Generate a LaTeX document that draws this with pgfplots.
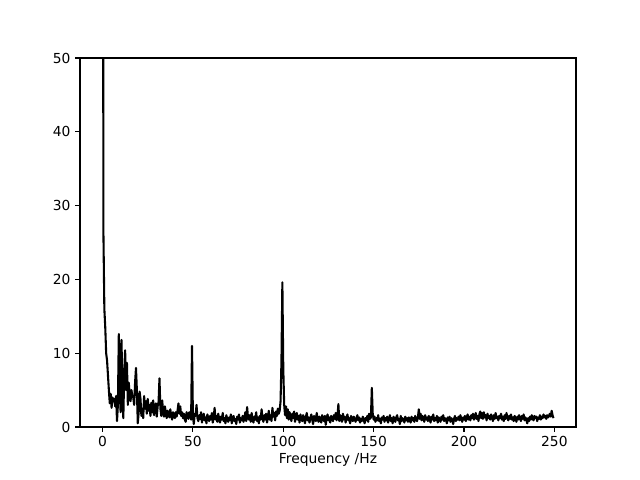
\documentclass[border=0pt]{standalone}
\usepackage{pgfplots}
\pgfplotsset{compat=1.18}
\usepackage{fontspec}
\setmainfont{DejaVu Sans}
\begin{document}
\begin{tikzpicture}[x=1bp,y=1bp]
\path[use as bounding box] (-60bp,-39.75bp) rectangle (420bp,320.25bp);
\begin{axis}[
  at={(0,0)}, anchor=south west,
  scale only axis, width=372bp, height=276.75bp,
  xmin=-12.475, xmax=261.975, ymin=0, ymax=50,
  xtick={0,50,100,150,200,250}, ytick={0,10,20,30,40,50},
  tick align=outside, tick pos=left,
  major tick length=3.65bp,
  every tick/.style={black, line width=0.83bp},
  axis line style={line width=0.83bp},
  font=\fontsize{10.4}{12}\selectfont,
  /pgf/number format/assume math mode=true,
  xlabel={Frequency /Hz},
  xlabel style={yshift=2bp},
  clip=true,
]
\addplot[black, line width=1.56bp, line join=round] table[x expr=\coordindex*0.5, y index=0, header=false, row sep=\\] {
120\\ 26\\ 16\\ 13.5\\ 10\\ 9\\ 7\\ 5\\ 3.2\\ 4.5\\ 2.6\\ 4\\ 3.5\\ 3.8\\ 2.8\\ 4.2\\ 0.8\\ 3\\ 12.6\\ 5\\
2\\ 11.8\\ 4\\ 1.2\\ 7.5\\ 10.4\\ 5\\ 8.7\\ 3\\ 6\\ 4.5\\ 3.5\\ 5\\ 4.2\\ 4\\ 3\\ 6\\ 8\\ 5\\ 0.5\\
2\\ 4.8\\ 3.8\\ 1.5\\ 2.5\\ 1.2\\ 4.2\\ 2.5\\ 3.5\\ 1.8\\ 3.8\\ 2.2\\ 3\\ 1.5\\ 3.3\\ 2\\ 3.6\\ 1.6\\ 2.6\\ 3.2\\
1.4\\ 2.8\\ 3.4\\ 6.6\\ 2.5\\ 1.5\\ 3.6\\ 2.2\\ 1.4\\ 2.8\\ 2\\ 1.2\\ 2.2\\ 1.8\\ 1.3\\ 2.4\\ 1.5\\ 1\\ 2\\ 1.6\\
1.2\\ 2\\ 1.4\\ 2.2\\ 3.2\\ 1.8\\ 2.8\\ 1.5\\ 2\\ 1.2\\ 1.8\\ 1\\ 0.7\\ 2\\ 1.5\\ 1.1\\ 2\\ 1.6\\ 1\\ 11\\
1.5\\ 0.4\\ 1.8\\ 1.5\\ 3\\ 1.2\\ 0.8\\ 1.6\\ 1.1\\ 2\\ 0.6\\ 1.4\\ 1.8\\ 0.9\\ 1.3\\ 0.5\\ 1.7\\ 1.2\\ 0.8\\ 1.5\\
1\\ 1.9\\ 0.6\\ 1.3\\ 2.6\\ 1\\ 1.5\\ 0.7\\ 1.8\\ 1.2\\ 0.6\\ 1.4\\ 1\\ 1.9\\ 0.8\\ 1.2\\ 0.5\\ 1.6\\ 1.1\\ 0.7\\
1.3\\ 0.9\\ 1.7\\ 0.5\\ 1.2\\ 1.5\\ 0.8\\ 1.1\\ 0.4\\ 1.4\\ 1\\ 1.7\\ 0.6\\ 1.2\\ 0.9\\ 1.5\\ 0.7\\ 1.3\\ 2\\ 0.8\\
2.7\\ 1.2\\ 1\\ 1.6\\ 0.7\\ 1.9\\ 1.1\\ 0.6\\ 1.4\\ 1\\ 2\\ 0.8\\ 1.3\\ 0.5\\ 1.5\\ 1\\ 2.4\\ 1.2\\ 0.7\\ 1.6\\
1\\ 1.8\\ 0.6\\ 1.3\\ 2.2\\ 1\\ 1.6\\ 0.8\\ 2.6\\ 1.4\\ 1.9\\ 0.9\\ 2.1\\ 1.5\\ 2.5\\ 1.8\\ 2.2\\ 3.5\\ 9\\ 19.6\\
8\\ 3\\ 1.6\\ 2.8\\ 1.2\\ 2.4\\ 1\\ 2\\ 1.5\\ 0.8\\ 1.8\\ 1.2\\ 2.1\\ 0.7\\ 1.4\\ 1.9\\ 1\\ 1.5\\ 0.6\\ 1.7\\
1.1\\ 0.8\\ 1.6\\ 1.2\\ 0.5\\ 1.4\\ 1.9\\ 0.9\\ 1.3\\ 0.6\\ 1.2\\ 1.7\\ 1\\ 0.4\\ 1.5\\ 1.1\\ 0.8\\ 1.9\\ 1.2\\ 0.7\\
1.4\\ 1\\ 0.6\\ 1.6\\ 1.1\\ 0.8\\ 1.5\\ 0.3\\ 1.2\\ 1.7\\ 0.9\\ 1.3\\ 0.6\\ 1.5\\ 1\\ 0.8\\ 1.6\\ 1.1\\ 1.9\\ 0.9\\
1.5\\ 3.1\\ 0.8\\ 1.6\\ 1.2\\ 0.7\\ 1.8\\ 1\\ 1.4\\ 0.6\\ 1.3\\ 1.7\\ 0.9\\ 1.2\\ 0.5\\ 1.5\\ 1\\ 0.8\\ 1.4\\ 1.1\\
0.7\\ 1.2\\ 1.6\\ 0.9\\ 1.3\\ 0.6\\ 1.1\\ 0.8\\ 1.4\\ 1\\ 0.5\\ 1.2\\ 0.9\\ 1.5\\ 0.7\\ 1.8\\ 1.1\\ 1.3\\ 5.3\\ 1.8\\
1\\ 1.4\\ 0.7\\ 1.2\\ 0.9\\ 1.6\\ 0.8\\ 1.1\\ 0.5\\ 1.3\\ 1\\ 1.5\\ 0.7\\ 1.2\\ 0.9\\ 1.4\\ 0.6\\ 1.1\\ 1.6\\ 0.8\\
1.2\\ 0.5\\ 1.4\\ 1\\ 0.7\\ 1.3\\ 1.6\\ 0.9\\ 1.1\\ 0.4\\ 1.5\\ 0.8\\ 1.2\\ 1\\ 0.6\\ 1.4\\ 0.9\\ 1.2\\ 0.7\\ 1.3\\
1\\ 0.6\\ 1.4\\ 0.9\\ 1.2\\ 0.7\\ 1.5\\ 1\\ 0.8\\ 1.3\\ 2.4\\ 1.1\\ 1.8\\ 0.9\\ 1.5\\ 1.2\\ 0.7\\ 1.6\\ 1\\ 1.3\\
0.8\\ 1.5\\ 1.1\\ 0.6\\ 1.4\\ 1\\ 1.7\\ 0.8\\ 1.2\\ 0.9\\ 1.5\\ 0.6\\ 1.3\\ 1.1\\ 0.7\\ 1.4\\ 1\\ 1.6\\ 0.8\\ 1.2\\
1\\ 0.5\\ 1.3\\ 0.9\\ 1.4\\ 0.7\\ 1.2\\ 1\\ 0.4\\ 1.1\\ 1.5\\ 0.8\\ 1.2\\ 1\\ 1.4\\ 0.9\\ 1.6\\ 1.1\\ 0.7\\ 1.3\\
1\\ 1.5\\ 0.8\\ 1.3\\ 1.7\\ 1\\ 1.4\\ 0.9\\ 1.6\\ 1.2\\ 1.8\\ 1\\ 1.3\\ 1.9\\ 1.1\\ 1.5\\ 0.8\\ 1.7\\ 2.1\\ 1.2\\
1.9\\ 1.1\\ 2\\ 1.3\\ 1.6\\ 0.9\\ 1.8\\ 1.2\\ 1.5\\ 1\\ 1.7\\ 1.3\\ 0.8\\ 1.6\\ 1.1\\ 1.9\\ 1.2\\ 1.4\\ 0.9\\ 1.5\\
1.2\\ 1.8\\ 1\\ 1.4\\ 0.8\\ 1.6\\ 1.1\\ 1.9\\ 1.3\\ 0.9\\ 1.5\\ 1.1\\ 1.7\\ 1\\ 1.3\\ 0.8\\ 1.5\\ 1.2\\ 0.7\\ 1.4\\
1\\ 1.6\\ 1.2\\ 0.8\\ 1.5\\ 1.1\\ 1.7\\ 0.9\\ 1.3\\ 1\\ 0.5\\ 1.2\\ 0.8\\ 1.4\\ 1\\ 1.6\\ 1.1\\ 0.9\\ 1.5\\ 1.2\\
1.4\\ 0.8\\ 1.3\\ 1.1\\ 1.6\\ 1\\ 1.4\\ 1.2\\ 1.7\\ 1.3\\ 1.5\\ 1.1\\ 1.6\\ 1.3\\ 1.5\\ 1.8\\ 1.4\\ 2.2\\ 1.6\\ 1.2\\
};
\end{axis}
\end{tikzpicture}
\end{document}
